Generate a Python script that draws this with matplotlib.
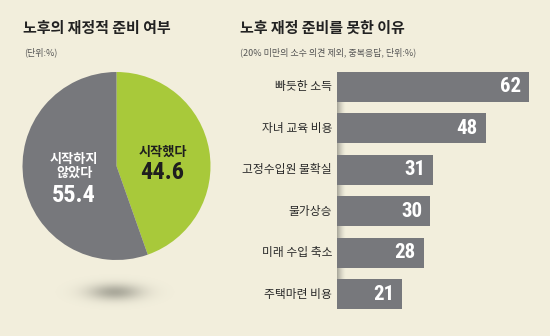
import numpy as np
import matplotlib
matplotlib.use("Agg")
import matplotlib.pyplot as plt

plt.rcParams['font.family'] = ['Noto Sans CJK KR', 'DejaVu Sans']
NUM_FONT = ['Roboto Condensed', 'Roboto', 'DejaVu Sans']

# 노후의 재정적 준비 여부 (단위: %)
pie_labels = ['시작했다', '시작하지\n않았다']
pie_values = [44.6, 55.4]

# 노후 재정 준비를 못한 이유 (단위: %)
reasons = ['빠듯한 소득', '자녀 교육 비용', '고정수입원 불확실', '물가상승', '미래 수입 축소', '주택마련 비용']
reason_values = [62, 48, 31, 30, 28, 21]

BG = '#f2eedc'
GRAY = '#77787c'
GREEN = '#a8c93a'

W, H = 550, 336
fig = plt.figure(figsize=(W / 100, H / 100), dpi=100, facecolor=BG)

# pixel-space overlay for titles and the pie shadow
base = fig.add_axes([0, 0, 1, 1], zorder=0)
base.set_xlim(0, W)
base.set_ylim(H, 0)
base.axis('off')

base.text(23, 28, '노후의 재정적 준비 여부', fontsize=10.8, fontweight='bold',
          color='#222222', va='center', ha='left')
base.text(24, 52, '(단위:%)', fontsize=6.5, color='#555555', va='center', ha='left')
base.text(240, 28, '노후 재정 준비를 못한 이유', fontsize=10.8, fontweight='bold',
          color='#222222', va='center', ha='left')
base.text(240, 52, '(20% 미만의 소수 의견 제외, 중복응답, 단위:%)', fontsize=6.5,
          color='#555555', va='center', ha='left')

# soft shadow under the pie (gaussian blob)
gx, gy = np.meshgrid(np.linspace(-1, 1, 120), np.linspace(-1, 1, 40))
blob = np.exp(-((gx / 0.45) ** 2 + (gy / 0.42) ** 2))
shadow = np.zeros(blob.shape + (4,))
shadow[..., :3] = np.array([0.45, 0.45, 0.41])
shadow[..., 3] = blob * 0.55
base.imshow(shadow, extent=[55, 175, 312, 272], aspect='auto', interpolation='bilinear')
base.set_xlim(0, W)
base.set_ylim(H, 0)

# pie
cx, cy, r = 116.5, 166, 94
pie_ax = fig.add_axes([(cx - r) / W, (H - cy - r) / H, 2 * r / W, 2 * r / H], zorder=1)
pie_ax.pie(pie_values, colors=[GREEN, GRAY], startangle=90, counterclock=False,
           radius=1, wedgeprops=dict(linewidth=0))
pie_ax.set_xlim(-1, 1)
pie_ax.set_ylim(-1, 1)
pie_ax.set_aspect('equal')
pie_ax.axis('off')

pie_ax.text(0.49, 0.15, pie_labels[0], fontsize=9.5, fontweight='bold', color='#1e1e1e',
            ha='center', va='center')
pie_ax.text(0.49, -0.07, f'{pie_values[0]}', fontsize=17.5, fontweight='bold', color='#1e1e1e',
            family=NUM_FONT, ha='center', va='center')
pie_ax.text(-0.45, 0.0, pie_labels[1], fontsize=9.5, fontweight='bold', color='white',
            ha='center', va='center', linespacing=1.05)
pie_ax.text(-0.45, -0.31, f'{pie_values[1]}', fontsize=17.5, fontweight='bold', color='white',
            family=NUM_FONT, ha='center', va='center')

# bars
px_per_unit = 3.1
left, right = 337, 545
top, bottom = 66, 315
bar_ax = fig.add_axes([left / W, (H - bottom) / H, (right - left) / W, (bottom - top) / H],
                      zorder=1)
bar_ax.set_facecolor('none')
bar_ax.set_xlim(0, (right - left) / px_per_unit)
bar_ax.set_ylim(len(reasons) - 0.5, -0.5)
bar_ax.axis('off')

# shadow strip along the bars' left edge
grad = np.linspace(1, 0, 50).reshape(1, -1)
shade = np.zeros((1, 50, 4))
shade[..., :3] = np.array([0.45, 0.45, 0.42])
shade[..., 3] = grad ** 1.5 * 0.6
bar_ax.imshow(shade, extent=[0, 9 / px_per_unit, 5.2, -0.2], aspect='auto', zorder=1,
              interpolation='bilinear')
bar_ax.set_xlim(0, (right - left) / px_per_unit)
bar_ax.set_ylim(len(reasons) - 0.5, -0.5)

y = np.arange(len(reasons))
bar_ax.barh(y, reason_values, height=0.73, color=GRAY, zorder=2)
for yi, name, v in zip(y, reasons, reason_values):
    bar_ax.text(v - 8 / px_per_unit, yi, str(v), fontsize=15, fontweight='bold',
                color='white', family=NUM_FONT, ha='right', va='center', zorder=3)
    bar_ax.text(-5 / px_per_unit, yi, name, fontsize=8.5, color='#2a2a2a',
                ha='right', va='center', clip_on=False)

fig.savefig('out.png', dpi=100, facecolor=BG)
